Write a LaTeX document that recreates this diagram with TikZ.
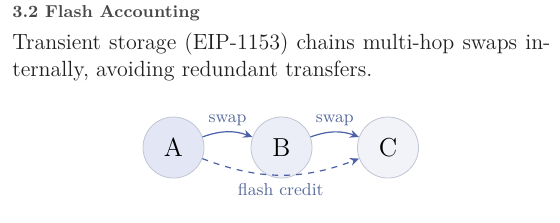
\documentclass[tikz,border=0pt]{standalone}
\usetikzlibrary{arrows.meta, positioning}
\definecolor{flowblue}{HTML}{4A60A8}
\definecolor{lblblue}{HTML}{5A6B9E}
\definecolor{poolline}{HTML}{C2C5D2}
\definecolor{poolA}{HTML}{E3E6F4}
\definecolor{poolB}{HTML}{EBEDF7}
\definecolor{poolC}{HTML}{F2F3F8}

\begin{document}
\begin{tikzpicture}[x=0.5pt, y=-0.5pt,
        hd/.style   = {anchor=base west, inner sep=0pt, font=\fontsize{8.6}{10}\selectfont\bfseries, text=black!72},
        body/.style = {anchor=base west, inner sep=0pt, font=\fontsize{11}{13.5}\selectfont, text=black!88},
        pool/.style = {draw=poolline, circle, minimum size=30.5pt, inner sep=0pt, font=\fontsize{13}{15}\selectfont},
        ar/.style   = {-{Stealth[length=1.6mm, width=1.4mm]}, semithick, draw=flowblue},
        lbl/.style  = {font=\fontsize{8.6}{10}\selectfont, text=lblblue, inner sep=1.5pt}
    ]
        \useasboundingbox (0,0) rectangle (560,222);

        \node[hd]   (head)  at (12,17) {3.2 Flash Accounting};
        \node[body] (line1) at (12,49) {\makebox[269pt][s]{Transient storage (EIP-1153) chains multi-hop swaps in-}};
        \node[body] (line2) at (12,76) {ternally, avoiding redundant transfers.};

        \node[pool, fill=poolA] (A) at (173.5,147.5) {A};
        \node[pool, fill=poolB] (B) at (281.5,147.5) {B};
        \node[pool, fill=poolC] (C) at (388,147.5) {C};

        \draw[ar] (A) to[bend left=20] node[lbl, above=1.2pt] {swap} (B);
        \draw[ar] (B) to[bend left=20] node[lbl, above=1.2pt] {swap} (C);
        \draw[ar, dashed] (A) to[bend right=21] node[lbl, below=2.5pt] {flash credit} (C);
    \end{tikzpicture}
\end{document}
